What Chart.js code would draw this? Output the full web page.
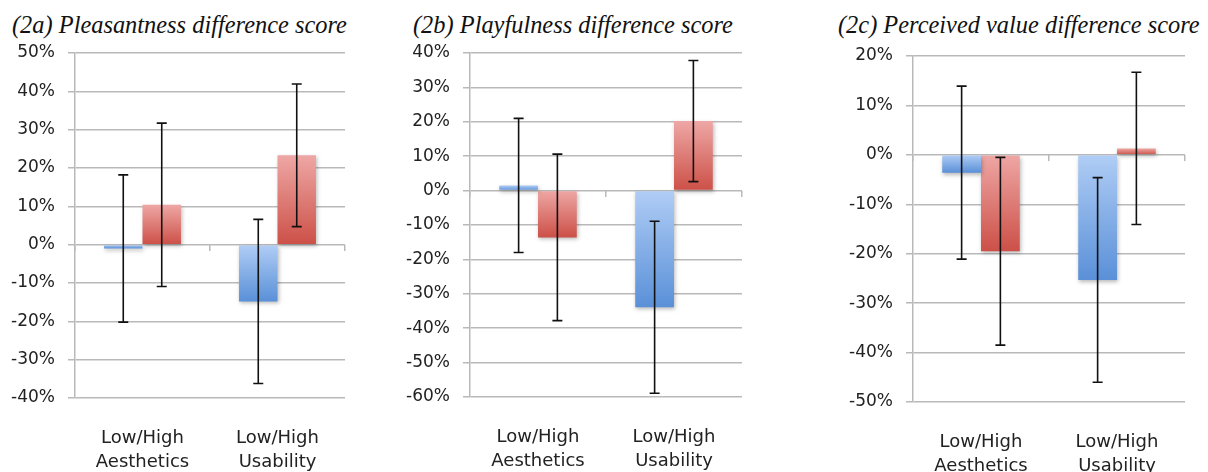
<!DOCTYPE html>
<html>
<head>
<meta charset="utf-8">
<script src="https://cdn.jsdelivr.net/npm/chart.js@4.4.1/dist/chart.umd.min.js"></script>
<style>
  body { margin: 0; background: #fff; width: 1208px; height: 472px; position: relative; overflow: hidden; }
  .panel { position: absolute; top: 0; height: 472px; }
  .titulo { position: absolute; top: 11px; font: italic 24.4px "Liberation Serif", "DejaVu Serif", serif; color: #111; white-space: nowrap; }
</style>
</head>
<body>
<div class="titulo" style="left:12px">(2a) Pleasantness difference score</div>
<div class="titulo" style="left:413px">(2b) Playfulness difference score</div>
<div class="titulo" style="left:838px">(2c) Perceived value difference score</div>
<div class="panel" style="left:0;width:360px"><canvas id="chartA"></canvas></div>
<div class="panel" style="left:400px;width:360px"><canvas id="chartB"></canvas></div>
<div class="panel" style="left:820px;width:388px"><canvas id="chartC"></canvas></div>
<script>
// categorias
const categorias = [['Low/High', 'Aesthetics'], ['Low/High', 'Usability']];

// (2a) Pleasantness
const placerAzul = [-1.0, -14.8];
const placerAzulErr = [19.2, 21.4];
const placerRojo = [10.4, 23.3];
const placerRojoErr = [21.3, 18.6];

// (2b) Playfulness
const juegoAzul = [1.5, -33.9];
const juegoAzulErr = [19.5, 25.0];
const juegoRojo = [-13.6, 20.2];
const juegoRojoErr = [24.2, 17.6];

// (2c) Perceived value
const valorAzul = [-3.6, -25.3];
const valorAzulErr = [17.5, 20.7];
const valorRojo = [-19.5, 1.3];
const valorRojoErr = [19.0, 15.4];

const GRIS = '#b9b9b9';
const fuenteEjes = '"DejaVu Sans", sans-serif';

function gradiente(c, claro, oscuro) {
  const y = c.chart.scales.y;
  if (!y || typeof c.raw !== 'number') return oscuro;
  const p1 = y.getPixelForValue(c.raw);
  const p0 = y.getPixelForValue(0);
  if (!isFinite(p0) || !isFinite(p1)) return oscuro;
  const top = Math.min(p0, p1);
  const bot = Math.max(p0, p1) + 0.01;
  const g = c.chart.ctx.createLinearGradient(0, top, 0, bot);
  g.addColorStop(0, claro);
  g.addColorStop(1, oscuro);
  return g;
}

// sombra de las barras
const sombraPlugin = {
  id: 'sombra',
  beforeDatasetsDraw(chart) {
    const ctx = chart.ctx;
    ctx.save();
    ctx.shadowColor = 'rgba(0,0,0,0.28)';
    ctx.shadowBlur = 4;
    ctx.shadowOffsetX = 1;
    ctx.shadowOffsetY = 2;
  },
  afterDatasetsDraw(chart) {
    chart.ctx.restore();
  }
};

// barras de error
const erroresPlugin = {
  id: 'errores',
  afterDatasetsDraw(chart) {
    const ctx = chart.ctx;
    const y = chart.scales.y;
    ctx.save();
    ctx.strokeStyle = '#111';
    ctx.lineWidth = 1.6;
    chart.data.datasets.forEach((ds, i) => {
      const meta = chart.getDatasetMeta(i);
      meta.data.forEach((bar, j) => {
        const v = ds.data[j];
        const e = ds.errores[j];
        const yt = y.getPixelForValue(v + e);
        const yb = y.getPixelForValue(v - e);
        const x = bar.x;
        ctx.beginPath();
        ctx.moveTo(x, yt); ctx.lineTo(x, yb);
        ctx.moveTo(x - 5, yt); ctx.lineTo(x + 5, yt);
        ctx.moveTo(x - 5, yb); ctx.lineTo(x + 5, yb);
        ctx.stroke();
      });
    });
    ctx.restore();
  }
};

function crearGrafico(id, azul, azulErr, rojo, rojoErr, minY, maxY, anchoEjeY, arriba, abajo, ancho) {
  const canvas = document.getElementById(id);
  canvas.width = ancho;
  canvas.height = 472;
  return new Chart(canvas, {
    type: 'bar',
    data: {
      labels: categorias,
      datasets: [
        {
          data: azul,
          errores: azulErr,
          backgroundColor: (c) => gradiente(c, '#b0cdf5', '#5a90d8'),
          categoryPercentage: 0.57,
          barPercentage: 1.0,
        },
        {
          data: rojo,
          errores: rojoErr,
          backgroundColor: (c) => gradiente(c, '#eea7a5', '#cc5047'),
          categoryPercentage: 0.57,
          barPercentage: 1.0,
        },
      ],
    },
    options: {
      responsive: false,
      animation: false,
      layout: { padding: { top: arriba, right: 15, left: 0, bottom: 0 } },
      plugins: { legend: { display: false }, tooltip: { enabled: false } },
      scales: {
        x: {
          grid: { display: false },
          border: { display: false },
          ticks: { color: '#222', padding: 20, font: { family: fuenteEjes, size: 18, lineHeight: 1.35 } },
          afterFit: (s) => { s.height = 472 - abajo; },
        },
        x2: {
          type: 'category',
          display: true,
          labels: categorias,
          position: { y: 0 },
          offset: true,
          grid: { drawOnChartArea: false, drawTicks: true, tickLength: 6, offset: true, color: GRIS, lineWidth: 1.5 },
          border: { display: false },
          ticks: { display: false },
        },
        y: {
          min: minY,
          max: maxY,
          ticks: { stepSize: 10, color: '#222', padding: 13, font: { family: fuenteEjes, size: 17 }, callback: (v) => v + '%' },
          grid: { color: GRIS, lineWidth: 1.5, tickLength: 7 },
          border: { color: GRIS, width: 1.5 },
          afterFit: (s) => { s.width = anchoEjeY; },
        },
      },
    },
    plugins: [sombraPlugin, erroresPlugin],
  });
}

crearGrafico('chartA', placerAzul, placerAzulErr, placerRojo, placerRojoErr, -40, 50, 75, 53, 398, 360);
crearGrafico('chartB', juegoAzul, juegoAzulErr, juegoRojo, juegoRojoErr, -60, 40, 70, 53, 397, 357);
crearGrafico('chartC', valorAzul, valorAzulErr, valorRojo, valorRojoErr, -50, 20, 93, 56, 402, 380);
</script>
</body>
</html>
